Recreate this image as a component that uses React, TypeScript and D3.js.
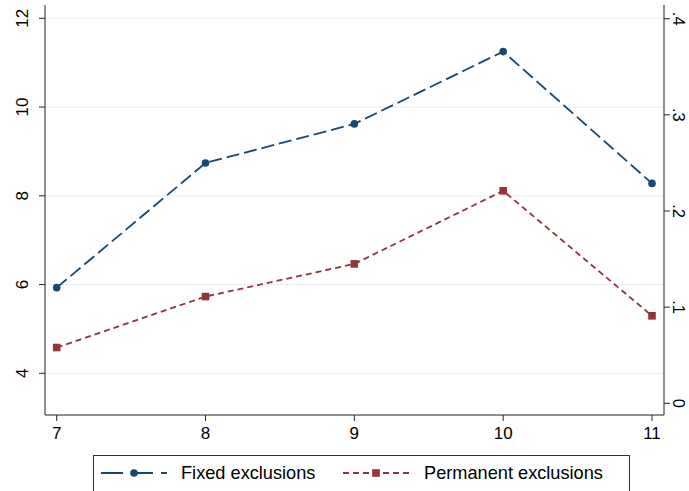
import React from "react";
import * as d3 from "d3";

// Age groups on the x axis
const ages = [7, 8, 9, 10, 11];
// Fixed exclusions (left axis)
const fixedExclusions = [5.93, 8.74, 9.62, 11.25, 8.28];
// Permanent exclusions (right axis)
const permanentExclusions = [0.058, 0.111, 0.145, 0.221, 0.091];

const leftTicks = [4, 6, 8, 10, 12];
const rightTicks = [0, 0.1, 0.2, 0.3, 0.4];
const rightTickLabels = ["0", ".1", ".2", ".3", ".4"];

const W = 689;
const H = 491;
const FONT = "'Liberation Sans', Arial, Helvetica, sans-serif";
const NAVY = "#1a476f";
const MAROON = "#90353b";
const GRID = "#e6eef0";
const AXIS = "#222";

export default function App() {
  const plotLeft = 45;
  const plotRight = 664;
  const plotTop = 5;
  const plotBottom = 415;

  const x = d3.scaleLinear().domain([7, 11]).range([56.7, 652]);
  const yL = d3.scaleLinear().domain([4, 12]).range([373.3, 18.3]);
  const yR = d3.scaleLinear().domain([0, 0.4]).range([403.3, 18.7]);

  const fixedPts: [number, number][] = ages.map((a, i) => [x(a), yL(fixedExclusions[i])]);
  const permPts: [number, number][] = ages.map((a, i) => [x(a), yR(permanentExclusions[i])]);
  const line = d3.line();

  const legTop = 455;
  const legY = 473;

  return (
    <svg
      width={W}
      height={H}
      style={{ position: "absolute", left: 0, top: 0, background: "#fff" }}
      fontFamily={FONT}
    >
      <rect x={0} y={0} width={W} height={H} fill="#fff" />
      {/* gridlines */}
      {leftTicks.map((t) => (
        <line key={"g" + t} x1={plotLeft} x2={plotRight} y1={yL(t)} y2={yL(t)} stroke={GRID} strokeWidth={1} />
      ))}

      {/* axes */}
      <line x1={plotLeft} x2={plotLeft} y1={plotTop} y2={plotBottom} stroke={AXIS} strokeWidth={1} />
      <line x1={plotRight} x2={plotRight} y1={plotTop} y2={plotBottom} stroke={AXIS} strokeWidth={1} />
      <line x1={plotLeft} x2={plotRight} y1={plotBottom} y2={plotBottom} stroke={AXIS} strokeWidth={1} />

      {/* left ticks */}
      {leftTicks.map((t) => (
        <g key={"l" + t}>
          <line x1={plotLeft - 6} x2={plotLeft} y1={yL(t)} y2={yL(t)} stroke={AXIS} />
          <text
            transform={`translate(${22},${yL(t)}) rotate(-90)`}
            textAnchor="middle"
            dominantBaseline="central"
            fontSize={17}
            fill="#000"
          >
            {t}
          </text>
        </g>
      ))}

      {/* right ticks */}
      {rightTicks.map((t, i) => (
        <g key={"r" + t}>
          <line x1={plotRight} x2={plotRight + 6} y1={yR(t)} y2={yR(t)} stroke={AXIS} />
          <text
            transform={`translate(${679},${yR(t)}) rotate(90)`}
            textAnchor="middle"
            dominantBaseline="central"
            fontSize={16.5}
            fill="#000"
          >
            {rightTickLabels[i]}
          </text>
        </g>
      ))}

      {/* x ticks */}
      {ages.map((a) => (
        <g key={"x" + a}>
          <line x1={x(a)} x2={x(a)} y1={plotBottom} y2={plotBottom + 6} stroke={AXIS} />
          <text x={x(a)} y={439} textAnchor="middle" fontSize={17} fill="#000">
            {a}
          </text>
        </g>
      ))}

      {/* series */}
      <path d={line(fixedPts) || ""} fill="none" stroke={NAVY} strokeWidth={1.8} strokeDasharray="13 5" />
      <path d={line(permPts) || ""} fill="none" stroke={MAROON} strokeWidth={1.8} strokeDasharray="6 4" />
      {fixedPts.map((p, i) => (
        <circle key={"fc" + i} cx={p[0]} cy={p[1]} r={3.8} fill={NAVY} />
      ))}
      {permPts.map((p, i) => (
        <rect key={"ps" + i} x={p[0] - 3.8} y={p[1] - 3.8} width={7.6} height={7.6} fill={MAROON} />
      ))}

      {/* legend */}
      <rect x={93.5} y={legTop + 0.5} width={536} height={50} fill="#fff" stroke="#333" strokeWidth={1} />
      <line x1={101} x2={167} y1={legY} y2={legY} stroke={NAVY} strokeWidth={1.8} strokeDasharray="22 8" />
      <circle cx={134} cy={legY} r={3.8} fill={NAVY} />
      <text x={181} y={legY} dominantBaseline="central" fontSize={18.2} fill="#000">
        Fixed exclusions
      </text>
      <line x1={343} x2={412} y1={legY} y2={legY} stroke={MAROON} strokeWidth={1.8} strokeDasharray="6 4" />
      <rect x={376 - 3.8} y={legY - 3.8} width={7.6} height={7.6} fill={MAROON} />
      <text x={424} y={legY} dominantBaseline="central" fontSize={18.2} fill="#000">
        Permanent exclusions
      </text>
    </svg>
  );
}
